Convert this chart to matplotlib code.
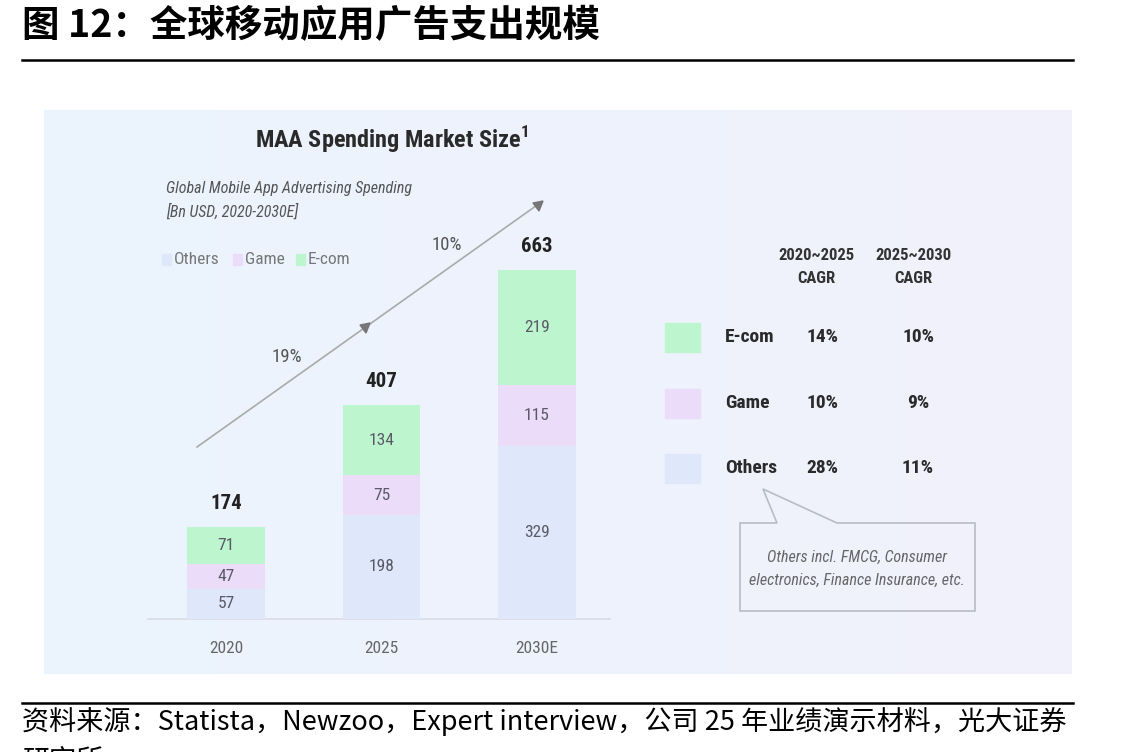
import numpy as np
import matplotlib.pyplot as plt
from matplotlib import font_manager as fm
from matplotlib.patches import Rectangle, Polygon
from matplotlib.colors import to_rgb

plt.rcParams['font.family'] = ['Noto Sans CJK SC', 'DejaVu Sans']

# pick a narrow latin face for the chart texts, if one is around
_fonts = fm.fontManager.ttflist
_names = {f.name for f in _fonts}
NARROW = {'family': ['Noto Sans CJK SC', 'DejaVu Sans']}
for cand in ['Roboto Condensed', 'Liberation Sans Narrow', 'Open Sans Condensed',
             'Noto Sans Condensed', 'Noto Sans Display Condensed']:
    if cand in _names:
        NARROW = {'family': [cand, 'DejaVu Sans']}
        break
else:
    for f in _fonts:
        if f.name in ('DejaVu Sans', 'Noto Sans', 'Roboto') and f.stretch in ('condensed', 'semi-condensed'):
            NARROW = {'family': [f.name], 'fontstretch': f.stretch}
            break

years = ['2020', '2025', '2030E']
others = [57, 198, 329]
game = [47, 75, 115]
ecom = [71, 134, 219]
totals = [174, 407, 663]

segments = ['E-com', 'Game', 'Others']
cagr_20_25 = ['14%', '10%', '28%']
cagr_25_30 = ['10%', '9%', '11%']
trend = ['19%', '10%']

c_others = '#dfe7fa'
c_game = '#ebdcfa'
c_ecom = '#bdf5cf'
seg_colors = [c_ecom, c_game, c_others]

W, H = 1143, 752
fig = plt.figure(figsize=(W / 100, H / 100), dpi=100)

# overlay axes in pixel coordinates
ov = fig.add_axes([0, 0, 1, 1])
ov.axis('off')

# panel background with a soft gradient
c1 = np.array(to_rgb('#ebf4fe'))
c2 = np.array(to_rgb('#f1f1fb'))
t = np.linspace(0, 1, 256)[None, :, None]
grad = c1 * (1 - t) + c2 * t
ov.imshow(grad, extent=(44, 1072, 674, 110), aspect='auto', zorder=0)
ov.set_xlim(0, W)
ov.set_ylim(H, 0)

# header / footer
ov.text(22, 26, '图 12：全球移动应用广告支出规模', fontsize=27, fontweight='bold',
        va='center', ha='left', color='black')
ov.plot([22, 1073], [60, 60], color='black', lw=1.8)
ov.plot([22, 1073], [703, 703], color='black', lw=1.8)
ov.text(22, 722, '资料来源：Statista，Newzoo，Expert interview，公司 25 年业绩演示材料，光大证券',
        fontsize=19.5, va='center', ha='left', color='black')
ov.text(22, 762, '研究所', fontsize=19.5, va='center', ha='left', color='black')

# chart titles
ov.text(392, 140, 'MAA Spending Market Size$^\\mathregular{1}$', fontsize=17.5, fontweight='bold',
        ha='center', va='center', color='#2a2a2a', **NARROW)
ov.text(166, 188, 'Global Mobile App Advertising Spending', fontsize=11.5, style='italic',
        ha='left', va='center', color='#555555', **NARROW)
ov.text(166, 212, '[Bn USD, 2020-2030E]', fontsize=11.5, style='italic',
        ha='left', va='center', color='#555555', **NARROW)

# legend
leg_x = [162, 233, 296]
for x, lab, col in zip(leg_x, ['Others', 'Game', 'E-com'], [c_others, c_game, c_ecom]):
    ov.add_patch(Rectangle((x, 254), 9, 11, color=col, zorder=2))
    ov.text(x + 12, 260, lab, fontsize=12.5, ha='left', va='center', color='#777777', **NARROW)

# trend arrow
ov.plot([197, 540], [447, 203], color='#aaaaaa', lw=1.2, zorder=2)
for (x, y) in [(365, 328), (538, 206)]:
    ov.add_patch(Polygon([[x - 5, y - 3], [x + 5, y - 5], [x + 1, y + 5]], closed=True,
                         color='#777777', zorder=3))
ov.text(287, 357, trend[0], fontsize=13.5, ha='center', va='center', color='#555555', **NARROW)
ov.text(447, 245, trend[1], fontsize=13.5, ha='center', va='center', color='#555555', **NARROW)

# baseline
ov.plot([148, 610], [619, 619], color='#d9dbe3', lw=1.2, zorder=1)

# bar chart axes (data -> pixels)
ax = fig.add_axes([70.5 / W, (H - 619) / H, 622 / W, 421.1 / H])
ax.set_xlim(-1, 3)
ax.set_ylim(0, 800)
ax.axis('off')
x = np.arange(len(years))
bw = 0.5
ax.bar(x, others, bw, color=c_others, zorder=2)
ax.bar(x, game, bw, bottom=others, color=c_game, zorder=2)
base2 = np.array(others) + np.array(game)
ax.bar(x, ecom, bw, bottom=base2, color=c_ecom, zorder=2)
for i in range(len(years)):
    for bot, val in [(0, others[i]), (others[i], game[i]), (base2[i], ecom[i])]:
        ax.text(x[i], bot + val / 2, str(val), ha='center', va='center', fontsize=12.5,
                color='#5a5a66', zorder=3, **NARROW)
    ax.annotate(str(totals[i]), (x[i], totals[i]), xytext=(0, 17), textcoords='offset points',
                ha='center', va='center', fontsize=15, fontweight='bold', color='#222222',
                **NARROW)
    ax.annotate(years[i], (x[i], 0), xytext=(0, -21), textcoords='offset points',
                ha='center', va='center', fontsize=12.5, color='#666666',
                annotation_clip=False, **NARROW)

# CAGR table
ov.text(816, 267, '2020~2025\nCAGR', fontsize=12, fontweight='bold', ha='center', va='center',
        color='#333333', linespacing=1.6, **NARROW)
ov.text(913, 267, '2025~2030\nCAGR', fontsize=12, fontweight='bold', ha='center', va='center',
        color='#333333', linespacing=1.6, **NARROW)
row_y = [337, 403, 468]
for y, seg, col, a, b in zip(row_y, segments, seg_colors, cagr_20_25, cagr_25_30):
    ov.add_patch(Rectangle((665, y - 14), 35, 29, color=col, zorder=2))
    ov.text(725, y, seg, fontsize=14, fontweight='bold', ha='left', va='center',
            color='#2a2a2a', **NARROW)
    ov.text(822, y, a, fontsize=14, fontweight='bold', ha='center', va='center',
            color='#2a2a2a', **NARROW)
    ov.text(918, y, b, fontsize=14, fontweight='bold', ha='center', va='center',
            color='#2a2a2a', **NARROW)

# callout box
box = [[740, 523], [777, 523], [763, 489], [837, 523], [975, 523], [975, 611], [740, 611]]
ov.add_patch(Polygon(box, closed=True, facecolor='none', edgecolor='#b8bcc6', lw=1.2, zorder=2))
ov.text(857, 557, 'Others incl. FMCG, Consumer', fontsize=11.5, style='italic', ha='center',
        va='center', color='#666666', **NARROW)
ov.text(857, 580, 'electronics, Finance Insurance, etc.', fontsize=11.5, style='italic', ha='center',
        va='center', color='#666666', **NARROW)

fig.savefig('out.png', dpi=100)
